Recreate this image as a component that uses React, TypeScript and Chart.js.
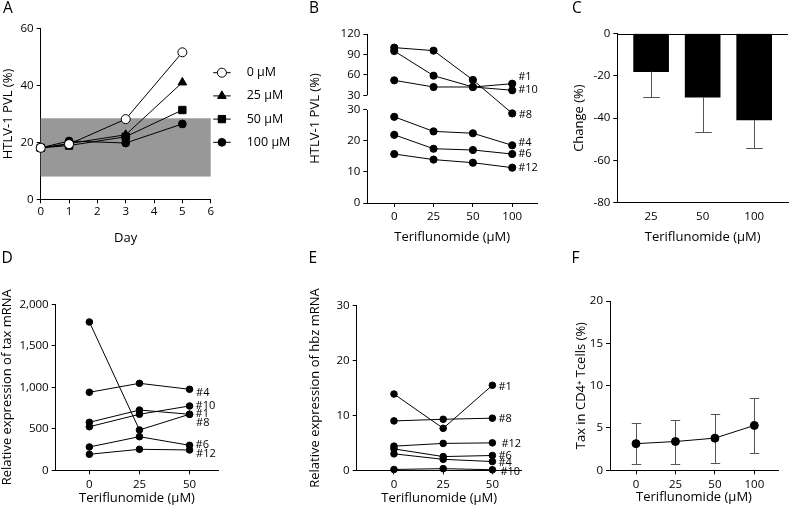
import React, { useEffect, useRef } from "react";
import { Chart, registerables } from "chart.js";

Chart.register(...registerables);

const FONT = "'Open Sans', 'DejaVu Sans', sans-serif";
const INK = "#000";
const ERR = "#555";
const BAND = "#989898";

// ---------------- data ----------------
// Panel A
const daysA = [0, 1, 3, 5];
const concLabelsA = ["0 µM", "25 µM", "50 µM", "100 µM"];
const pvlA0 = [18.1, 19.4, 28.2, 51.7];
const pvlA25 = [18.1, 19.6, 22.7, 41.1];
const pvlA50 = [18.1, 18.9, 22.0, 31.4];
const pvlA100 = [18.1, 20.5, 19.8, 26.5];
const rangeA = [8, 28.5];
const ticksAX = [0, 1, 2, 3, 4, 5, 6];
const ticksAY = [0, 20, 40, 60];

// Panel B
const dose4 = ["0", "25", "50", "100"];
const donorB = ["#1", "#10", "#8", "#4", "#6", "#12"];
const pvlB_1 = [52, 42.2, 42.2, 47];
const pvlB_10 = [95, 58.8, 42.2, 37.4];
const pvlB_8 = [100, 95.6, 52.5, 28.9];
const pvlB_4 = [27.8, 23.1, 22.5, 18.6];
const pvlB_6 = [22, 17.5, 17.1, 15.8];
const pvlB_12 = [15.8, 14, 13, 11.4];
const ticksBLow = [0, 10, 20, 30];
const ticksBHigh = [30, 60, 90, 120];

// Panel C
const doseC = ["25", "50", "100"];
const changeMean = [-18.0, -30.1, -40.9];
const changeSD = [11.9, 16.5, 13.4];
const ticksCY = [0, -20, -40, -60, -80];

// Panel D
const dose3 = ["0", "25", "50"];
const donorD = ["#4", "#10", "#1", "#8", "#6", "#12"];
const taxD_4 = [940, 1048, 976];
const taxD_10 = [525, 675, 775];
const taxD_1 = [578, 726, 675];
const taxD_8 = [1787, 486, 675];
const taxD_6 = [281, 405, 301];
const taxD_12 = [193, 253, 245];
const ticksDY = [0, 500, 1000, 1500, 2000];

// Panel E
const donorE = ["#1", "#8", "#12", "#6", "#4", "#10"];
const hbzE_1 = [13.9, 7.65, 15.5];
const hbzE_8 = [9.0, 9.3, 9.5];
const hbzE_12 = [4.4, 4.9, 5.0];
const hbzE_6 = [3.9, 2.5, 2.7];
const hbzE_4 = [3.0, 2.0, 1.6];
const hbzE_10 = [0.15, 0.3, 0.1];
const ticksEY = [0, 10, 20, 30];

// Panel F
const taxMean = [3.15, 3.4, 3.8, 5.3];
const taxSD = [2.4, 2.6, 2.9, 3.25];
const ticksFY = [0, 5, 10, 15, 20];

// ---------------- layout ----------------
type Box = { left: number; top: number; width: number; height: number };
type Plot = { x0: number; x1: number; y0: number; y1: number };

const BOX: Record<string, Box> = {
  A: { left: 0, top: 0, width: 340, height: 250 },
  B: { left: 300, top: 0, width: 245, height: 250 },
  C: { left: 565, top: 0, width: 225, height: 250 },
  D: { left: 0, top: 250, width: 250, height: 258 },
  E: { left: 300, top: 250, width: 240, height: 258 },
  F: { left: 565, top: 250, width: 225, height: 258 },
};
const PLOT: Record<string, Plot> = {
  A: { x0: 40.7, x1: 210.7, y0: 28.7, y1: 199.3 },
  B: { x0: 367.3, x1: 537, y0: 34, y1: 203 },
  C: { x0: 617.3, x1: 788, y0: 33.5, y1: 202.7 },
  D: { x0: 55.7, x1: 218.3, y0: 304.3, y1: 470.3 },
  E: { x0: 356.7, x1: 521.7, y0: 305.7, y1: 470.3 },
  F: { x0: 610, x1: 778, y0: 301, y1: 470.3 },
};

const TICK_SIZE = 11.5;
const TITLE_SIZE = 13;
const LH = TITLE_SIZE * 1.2;

function frame(key: string, yTitleX: number, xTitleY: number) {
  const box = BOX[key];
  const plot = PLOT[key];
  return {
    padding: { left: 0, top: plot.y0 - box.top, right: box.left + box.width - plot.x1, bottom: 0 },
    yWidth: plot.x0 - box.left,
    xHeight: box.top + box.height - plot.y1,
    yTitlePad: yTitleX - box.left - LH / 2,
    xTitlePad: box.top + box.height - xTitleY - LH / 2,
  };
}

type F = ReturnType<typeof frame>;

function common(f: F) {
  return {
    responsive: false,
    animation: false as const,
    devicePixelRatio: 1,
    events: [],
    layout: { padding: f.padding },
    plugins: { legend: { display: false }, tooltip: { enabled: false } },
  };
}

function yScale(f: F, title: string, min: number, max: number, values: number[], cb?: (v: number) => string, border = true) {
  return {
    type: "linear",
    position: "left",
    min,
    max,
    afterFit: (s: any) => {
      s.width = f.yWidth;
    },
    afterBuildTicks: (s: any) => {
      s.ticks = values.map((v) => ({ value: v }));
    },
    border: { display: border, color: INK, width: 1 },
    grid: { display: true, drawOnChartArea: false, drawTicks: true, tickLength: 4, color: INK, lineWidth: 1 },
    ticks: {
      color: INK,
      font: { family: FONT, size: TICK_SIZE },
      padding: 3,
      callback: (v: any) => (cb ? cb(Number(v)) : String(v)),
    },
    title: {
      display: true,
      text: title,
      color: INK,
      font: { family: FONT, size: TITLE_SIZE },
      padding: { top: f.yTitlePad, bottom: 0 },
    },
  };
}

function xScale(f: F, title: string, min: number, max: number, values: number[], cb: (v: number) => string, tickMarks = true, pad = 3) {
  return {
    type: "linear",
    position: "bottom",
    offset: false,
    min,
    max,
    afterFit: (s: any) => {
      s.height = f.xHeight;
    },
    afterBuildTicks: (s: any) => {
      s.ticks = values.map((v) => ({ value: v }));
    },
    border: { display: true, color: INK, width: 1 },
    grid: { display: tickMarks, offset: false, drawOnChartArea: false, drawTicks: tickMarks, tickLength: 4, color: INK, lineWidth: 1 },
    ticks: {
      color: INK,
      font: { family: FONT, size: TICK_SIZE },
      padding: pad,
      maxRotation: 0,
      autoSkip: false,
      callback: (v: any) => cb(Number(v)),
    },
    title: {
      display: true,
      text: title,
      color: INK,
      font: { family: FONT, size: TITLE_SIZE },
      padding: { top: 0, bottom: f.xTitlePad },
    },
  };
}

function lineSet(values: number[], radius: number, mapY: (v: number) => number = (v) => v) {
  return {
    data: values.map((v, i) => ({ x: i, y: mapY(v) })),
    borderColor: INK,
    borderWidth: 1,
    pointStyle: "circle",
    pointRadius: radius,
    pointBackgroundColor: INK,
    pointBorderColor: INK,
    pointBorderWidth: 1,
    tension: 0,
    clip: false,
  };
}

function endLabels(id: string, labels: string[], nudges: Record<string, [number, number]>) {
  return {
    id,
    afterDatasetsDraw(chart: any) {
      const ctx = chart.ctx;
      ctx.save();
      ctx.font = `11px ${FONT}`;
      ctx.fillStyle = INK;
      ctx.textBaseline = "middle";
      ctx.textAlign = "left";
      chart.data.datasets.forEach((_: any, i: number) => {
        const meta = chart.getDatasetMeta(i);
        const pt = meta.data[meta.data.length - 1];
        const [dx, dy] = nudges[labels[i]] || [6, 0];
        ctx.fillText(labels[i], pt.x + dx, pt.y + dy);
      });
      ctx.restore();
    },
  };
}

// ---------------- Panel A ----------------
function makeA(canvas: HTMLCanvasElement) {
  const f = frame("A", 8, 238);
  const styles = [
    { ps: "circle", r: 4.5, bg: "#fff" },
    { ps: "triangle", r: 5, bg: INK },
    { ps: "rect", r: 5.2, bg: INK },
    { ps: "circle", r: 3.9, bg: INK },
  ];
  const series = [pvlA0, pvlA25, pvlA50, pvlA100];
  const band = {
    id: "bandA",
    beforeDatasetsDraw(chart: any) {
      const { ctx, scales } = chart;
      const x0 = scales.x.getPixelForValue(scales.x.min);
      const x1 = scales.x.getPixelForValue(scales.x.max);
      const yTop = scales.y.getPixelForValue(rangeA[1]);
      const yBot = scales.y.getPixelForValue(rangeA[0]);
      ctx.save();
      ctx.fillStyle = BAND;
      ctx.fillRect(x0, yTop, x1 - x0, yBot - yTop);
      ctx.restore();
    },
  };
  const legend = {
    id: "legendA",
    afterDraw(chart: any) {
      const { ctx, chartArea } = chart;
      ctx.save();
      chart.data.datasets.forEach((ds: any, i: number) => {
        const y = chartArea.top + 44 + i * 23.2;
        const xs = chartArea.right + 2.5;
        const xm = chartArea.right + 11.2;
        const xe = chartArea.right + 20;
        ctx.strokeStyle = INK;
        ctx.lineWidth = 1;
        ctx.beginPath();
        ctx.moveTo(xs, y);
        ctx.lineTo(xe, y);
        ctx.stroke();
        const st = styles[i];
        ctx.fillStyle = st.bg;
        ctx.beginPath();
        if (st.ps === "circle") {
          ctx.arc(xm, y, st.r, 0, Math.PI * 2);
        } else if (st.ps === "triangle") {
          for (let k = 0; k < 3; k++) {
            const a = (k * 2 * Math.PI) / 3;
            const px = xm + Math.sin(a) * st.r;
            const py = y - Math.cos(a) * st.r;
            if (k === 0) ctx.moveTo(px, py);
            else ctx.lineTo(px, py);
          }
          ctx.closePath();
        } else {
          const h = st.r * Math.SQRT1_2;
          ctx.rect(xm - h, y - h, 2 * h, 2 * h);
        }
        ctx.fill();
        ctx.stroke();
        ctx.fillStyle = INK;
        ctx.font = `12.5px ${FONT}`;
        ctx.textBaseline = "middle";
        ctx.textAlign = "left";
        ctx.fillText(ds.label, chartArea.right + 36, y);
      });
      ctx.restore();
    },
  };
  return new Chart(canvas, {
    type: "line",
    data: {
      datasets: series.map((s, i) => ({
        label: concLabelsA[i],
        data: s.map((v, j) => ({ x: daysA[j], y: v })),
        borderColor: INK,
        borderWidth: 1,
        pointStyle: styles[i].ps,
        pointRadius: styles[i].r,
        pointBackgroundColor: styles[i].bg,
        pointBorderColor: INK,
        pointBorderWidth: 1,
        tension: 0,
        clip: false,
      })),
    } as any,
    options: {
      ...common(f),
      scales: {
        x: xScale(f, "Day", 0, 6, ticksAX, (v) => String(v), true, 2),
        y: yScale(f, "HTLV-1 PVL (%)", 0, 60, ticksAY),
      },
    } as any,
    plugins: [band, legend],
  });
}

// ---------------- Panel B (broken axis) ----------------
const B_GAP = 4.74;
const B_RATIO = 0.2197;
const brk = (v: number) => (v <= 30 ? v : 30 + B_GAP + (v - 30) * B_RATIO);
const unbrk = (t: number) => (t <= 30.0001 ? t : 30 + (t - 30 - B_GAP) / B_RATIO);

function makeB(canvas: HTMLCanvasElement) {
  const f = frame("B", 315, 237);
  const series = [pvlB_1, pvlB_10, pvlB_8, pvlB_4, pvlB_6, pvlB_12];
  const yTicks = [...ticksBLow.map(brk), ...ticksBHigh.map((v) => brk(v) + (v === 30 ? B_GAP : 0))];
  const axisSegments = {
    id: "brokenAxis",
    afterDraw(chart: any) {
      const { ctx, chartArea, scales } = chart;
      const x = Math.floor(chartArea.left) + 0.5;
      ctx.save();
      ctx.strokeStyle = INK;
      ctx.lineWidth = 1;
      ctx.beginPath();
      ctx.moveTo(x, scales.y.getPixelForValue(0));
      ctx.lineTo(x, scales.y.getPixelForValue(brk(ticksBLow[ticksBLow.length - 1])));
      ctx.moveTo(x, scales.y.getPixelForValue(brk(30) + B_GAP));
      ctx.lineTo(x, scales.y.getPixelForValue(brk(ticksBHigh[ticksBHigh.length - 1])));
      ctx.stroke();
      ctx.restore();
    },
  };
  return new Chart(canvas, {
    type: "line",
    data: { datasets: series.map((s) => lineSet(s, 3.6, brk)) } as any,
    options: {
      ...common(f),
      scales: {
        x: xScale(f, "Teriflunomide (µM)", -0.685, 3.63, [0, 1, 2, 3], (v) => dose4[v], true, 3),
        y: yScale(f, "HTLV-1 PVL (%)", 0, brk(120), yTicks, (v) => String(Math.round(unbrk(v))), false),
      },
    } as any,
    plugins: [
      axisSegments,
      endLabels("labB", donorB, { "#1": [6, -6.5], "#4": [6, -2], "#8": [6.5, 1] }),
    ],
  });
}

// ---------------- Panel C ----------------
function makeC(canvas: HTMLCanvasElement) {
  const f = frame("C", 579, 237);
  const extras = {
    id: "errC",
    afterDatasetsDraw(chart: any) {
      const { ctx, chartArea, scales } = chart;
      ctx.save();
      ctx.strokeStyle = ERR;
      ctx.lineWidth = 1;
      changeMean.forEach((m, i) => {
        const x = Math.round(scales.x.getPixelForValue(i)) + 0.5;
        const y1 = scales.y.getPixelForValue(m);
        const y2 = Math.round(scales.y.getPixelForValue(m - changeSD[i])) + 0.5;
        ctx.beginPath();
        ctx.moveTo(x, y1);
        ctx.lineTo(x, y2);
        ctx.moveTo(x - 8.3, y2);
        ctx.lineTo(x + 8.3, y2);
        ctx.stroke();
      });
      ctx.strokeStyle = INK;
      const y0 = Math.round(scales.y.getPixelForValue(0)) + 0.5;
      ctx.beginPath();
      ctx.moveTo(chartArea.left, y0);
      ctx.lineTo(chartArea.right, y0);
      ctx.stroke();
      ctx.restore();
    },
  };
  return new Chart(canvas, {
    type: "bar",
    data: {
      datasets: [
        {
          data: changeMean.map((v, i) => ({ x: i, y: v })),
          backgroundColor: INK,
          borderWidth: 0,
          barThickness: 35,
        },
      ],
    } as any,
    options: {
      ...common(f),
      scales: {
        x: xScale(f, "Teriflunomide (µM)", -0.656, 2.656, [0, 1, 2], (v) => doseC[v], false, 6.8),
        y: yScale(f, "Change (%)", -80, 0, ticksCY),
      },
    } as any,
    plugins: [extras],
  });
}

// ---------------- Panel D ----------------
function makeD(canvas: HTMLCanvasElement) {
  const f = frame("D", 7.5, 498);
  const series = [taxD_4, taxD_10, taxD_1, taxD_8, taxD_6, taxD_12];
  return new Chart(canvas, {
    type: "line",
    data: { datasets: series.map((s) => lineSet(s, 3.3)) } as any,
    options: {
      ...common(f),
      scales: {
        x: xScale(f, "Teriflunomide (µM)", -0.672, 2.574, [0, 1, 2], (v) => dose3[v], true, 3.8),
        y: yScale(f, "Relative expression of tax mRNA", 0, 2000, ticksDY, (v) => v.toLocaleString("en-US")),
      },
    } as any,
    plugins: [endLabels("labD", donorD, { "#4": [6.5, 4], "#8": [6.5, 9], "#12": [6.5, 3.5] })],
  });
}

// ---------------- Panel E ----------------
function makeE(canvas: HTMLCanvasElement) {
  const f = frame("E", 315, 498);
  const series = [hbzE_1, hbzE_8, hbzE_12, hbzE_6, hbzE_4, hbzE_10];
  return new Chart(canvas, {
    type: "line",
    data: { datasets: series.map((s) => lineSet(s, 3.3)) } as any,
    options: {
      ...common(f),
      scales: {
        x: xScale(f, "Teriflunomide (µM)", -0.758, 2.596, [0, 1, 2], (v) => dose3[v], true, 3.8),
        y: yScale(f, "Relative expression of hbz mRNA", 0, 30, ticksEY),
      },
    } as any,
    plugins: [endLabels("labE", donorE, { "#1": [6, 2], "#8": [6, 1], "#12": [9, 0.5], "#4": [6, 1], "#10": [8, 2] })],
  });
}

// ---------------- Panel F ----------------
function makeF(canvas: HTMLCanvasElement) {
  const f = frame("F", 581, 497);
  const err = {
    id: "errF",
    beforeDatasetsDraw(chart: any) {
      const { ctx, scales } = chart;
      ctx.save();
      ctx.strokeStyle = ERR;
      ctx.lineWidth = 1;
      taxMean.forEach((m, i) => {
        const x = Math.round(scales.x.getPixelForValue(i)) + 0.5;
        const yHi = Math.round(scales.y.getPixelForValue(m + taxSD[i])) + 0.5;
        const yLo = Math.round(scales.y.getPixelForValue(m - taxSD[i])) + 0.5;
        ctx.beginPath();
        ctx.moveTo(x, yHi);
        ctx.lineTo(x, yLo);
        ctx.moveTo(x - 4.7, yHi);
        ctx.lineTo(x + 4.7, yHi);
        ctx.moveTo(x - 4.7, yLo);
        ctx.lineTo(x + 4.7, yLo);
        ctx.stroke();
      });
      ctx.restore();
    },
  };
  return new Chart(canvas, {
    type: "line",
    data: { datasets: [lineSet(taxMean, 4)] } as any,
    options: {
      ...common(f),
      scales: {
        x: xScale(f, "Teriflunomide (µM)", -0.66, 3.6, [0, 1, 2, 3], (v) => dose4[v], true, 3.8),
        y: yScale(f, "Tax in CD4⁺ Tcells (%)", 0, 20, ticksFY),
      },
    } as any,
    plugins: [err],
  });
}

const ORDER = ["A", "B", "C", "D", "E", "F"];
const MAKERS = [makeA, makeB, makeC, makeD, makeE, makeF];
const LETTERS: { t: string; left: number; top: number }[] = [
  { t: "A", left: 3, top: 0 },
  { t: "B", left: 309, top: 0 },
  { t: "C", left: 572, top: 0 },
  { t: "D", left: 1.5, top: 250 },
  { t: "E", left: 308.5, top: 250 },
  { t: "F", left: 571.5, top: 250 },
];

export default function App() {
  const refs = [
    useRef<HTMLCanvasElement>(null),
    useRef<HTMLCanvasElement>(null),
    useRef<HTMLCanvasElement>(null),
    useRef<HTMLCanvasElement>(null),
    useRef<HTMLCanvasElement>(null),
    useRef<HTMLCanvasElement>(null),
  ];
  useEffect(() => {
    Chart.defaults.font.family = FONT;
    const charts = MAKERS.map((mk, i) => mk(refs[i].current as HTMLCanvasElement));
    return () => charts.forEach((c) => c.destroy());
  }, []);
  return (
    <div
      style={{
        position: "absolute",
        left: 0,
        top: 0,
        width: 790,
        height: 508,
        background: "#fff",
        overflow: "hidden",
        fontFamily: FONT,
      }}
    >
      {ORDER.map((k, i) => {
        const b = BOX[k];
        return (
          <canvas
            key={k}
            ref={refs[i]}
            width={b.width}
            height={b.height}
            style={{ position: "absolute", left: b.left, top: b.top, width: b.width, height: b.height }}
          />
        );
      })}
      {LETTERS.map((l) => (
        <div
          key={l.t}
          style={{
            position: "absolute",
            left: l.left,
            top: l.top,
            fontSize: 15.5,
            lineHeight: "15px",
            color: INK,
          }}
        >
          {l.t}
        </div>
      ))}
    </div>
  );
}
